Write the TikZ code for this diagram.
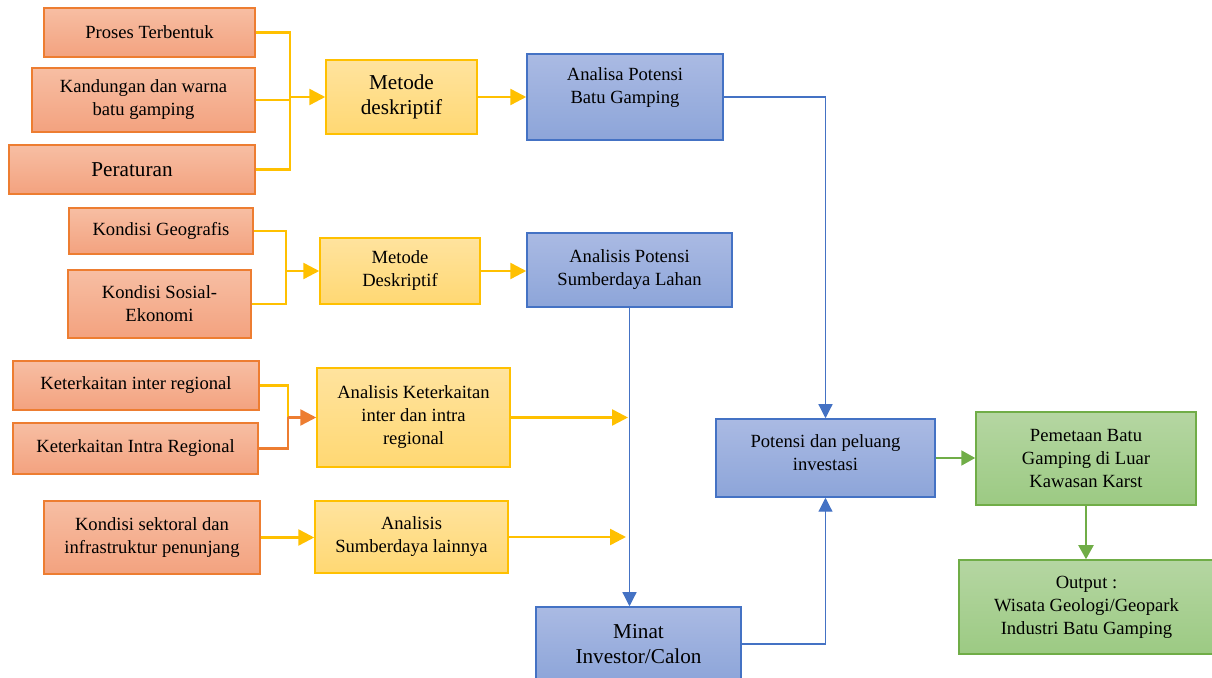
\documentclass[tikz,border=0pt]{standalone}
\usepackage{fontspec}
\setmainfont{Liberation Serif}
\usetikzlibrary{arrows.meta}

\definecolor{oline}{HTML}{ED7D31}
\definecolor{otop}{HTML}{F7BEA3}
\definecolor{obot}{HTML}{F3A27F}
\definecolor{yline}{HTML}{FFC000}
\definecolor{ytop}{HTML}{FFE39E}
\definecolor{ybot}{HTML}{FFD873}
\definecolor{bline}{HTML}{4472C4}
\definecolor{btop}{HTML}{AABAE3}
\definecolor{bbot}{HTML}{8DA5D9}
\definecolor{gline}{HTML}{70AD47}
\definecolor{gtop}{HTML}{B5D6A2}
\definecolor{gbot}{HTML}{9CCA83}

\begin{document}
\begin{tikzpicture}[x=0.5pt,y=-0.5pt,
  txt/.style={align=center, inner sep=0pt, font=\fontsize{9.3}{11.5}\selectfont},
  bigtxt/.style={txt, font=\fontsize{10.6}{12.6}\selectfont},
  box/.style={txt, draw, line width=0.75pt},
  obox/.style={box, draw=oline, top color=otop, bottom color=obot},
  ybox/.style={box, draw=yline, top color=ytop, bottom color=ybot},
  bbox/.style={box, draw=bline, top color=btop, bottom color=bbot},
  gbox/.style={box, draw=gline, top color=gtop, bottom color=gbot},
  ycon/.style={draw=yline, line width=1.25pt},
  ocon/.style={draw=oline, line width=1.25pt},
  bcon/.style={draw=bline, line width=0.6pt},
  gcon/.style={draw=gline, line width=1pt},
  yarr/.style={ycon, -{Triangle[length=8pt,width=8pt]}},
  oarr/.style={ocon, -{Triangle[length=8pt,width=8pt]}},
  barr/.style={bcon, -{Triangle[length=7pt,width=7pt]}},
  garr/.style={gcon, -{Triangle[length=7pt,width=7.5pt]}}]

\useasboundingbox (0,0) rectangle (1212,678);
\clip (0,0) rectangle (1212,678);

\node [obox, minimum width=105.5pt, minimum height=24.5pt] (o1) at (149.5,32.5) {Proses Terbentuk};
\node [obox, minimum width=111.5pt, minimum height=32pt] (o2) at (143.5,100) {Kandungan dan warna\\batu gamping};
\node [obox, bigtxt, minimum width=123pt, minimum height=24.5pt] (o3) at (132,169.5) {Peraturan};
\node [obox, minimum width=92pt, minimum height=23pt] (o4) at (161,231) {Kondisi Geografis};
\node [obox, minimum width=91.5pt, minimum height=34pt] (o5) at (159.5,304) {Kondisi Sosial-\\Ekonomi};
\node [obox, minimum width=123pt, minimum height=24.5pt] (o6) at (136,385.5) {Keterkaitan inter regional};
\node [obox, minimum width=122.5pt, minimum height=25.5pt] (o7) at (135.5,448.5) {Keterkaitan Intra Regional};
\node [obox, minimum width=108pt, minimum height=36.5pt] (o8) at (152,537.5) {Kondisi sektoral dan\\infrastruktur penunjang};

\node [ybox, bigtxt, minimum width=75.5pt, minimum height=37pt] (y1) at (401.5,97) {Metode\\deskriptif};
\node [ybox, minimum width=80pt, minimum height=33pt] (y2) at (400,271) {Metode\\Deskriptif};
\node [ybox, minimum width=96.5pt, minimum height=49.5pt] (y3) at (413.5,417.5) {Analisis Keterkaitan\\inter dan intra\\regional};
\node [ybox, minimum width=96.5pt, minimum height=36pt] (y4) at (411.5,537) {Analisis\\Sumberdaya lainnya};

\node [bbox, minimum width=98pt, minimum height=43pt] (b1) at (625,97) {};
\node [txt] (b1t) at (625,87.5) {Analisa Potensi\\Batu Gamping};
\node [bbox, minimum width=102.5pt, minimum height=37pt] (b2) at (629.5,270) {Analisis Potensi\\Sumberdaya Lahan};
\node [bbox, minimum width=109.5pt, minimum height=39pt] (b3) at (825.5,458) {};
\node [txt] (b3t) at (825.5,452.5) {Potensi dan peluang\\investasi};
\node [bbox, bigtxt, minimum width=102.5pt, minimum height=37pt] (b4) at (638.5,644) {Minat\\Investor/Calon};

\node [gbox, minimum width=110pt, minimum height=46.5pt] (g1) at (1086,458.5) {Pemetaan Batu\\Gamping di Luar\\Kawasan Karst};
\node [gbox, minimum width=127.5pt, minimum height=47pt] (g2) at (1086.5,607) {Output :\\Wisata Geologi/Geopark\\Industri Batu Gamping};

\coordinate (ja) at (290,97);
\coordinate (jb) at (286,271);
\coordinate (jc) at (288,417.5);
\coordinate (e3) at (628,417.5);
\coordinate (e4) at (626,537);

\draw [ycon] (o1.east) -| (ja) |- (o3.east);
\draw [ycon] (o2.east) -- (o2.east -| ja);
\draw [yarr] (ja) -- (y1.west);
\draw [yarr] (y1.east) -- (b1.west);

\draw [ycon] (o4.east) -| (jb) |- (o5.east);
\draw [yarr] (jb) -- (y2.west);
\draw [yarr] (y2.east) -- (y2.east -| b2.west);

\draw [ycon] (o6.east) -| (jc);
\draw [ocon] (o7.east) -| (jc);
\draw [oarr] (jc) -- (y3.west);
\draw [yarr] (y3.east) -- (e3);

\draw [yarr] (o8.east) -- (o8.east -| y4.west);
\draw [yarr] (y4.east) -- (e4);

\draw [barr] (b1.east) -| (b3.north);
\draw [barr] (b2.south) -- (b2.south |- b4.north);
\draw [barr] (b4.east) -| (b3.south);

\draw [garr] (b3.east) -- (b3.east -| g1.west);
\draw [garr] (g1.south) -- (g1.south |- g2.north);

\end{tikzpicture}
\end{document}
